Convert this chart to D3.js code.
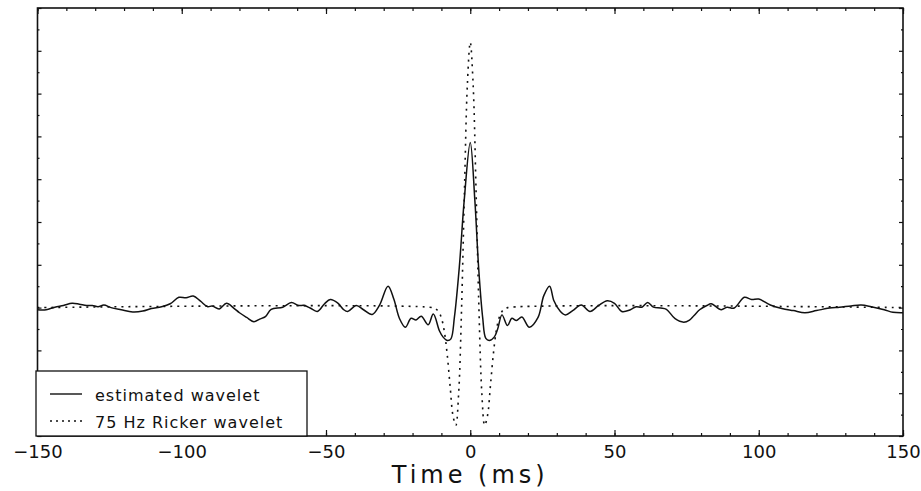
<!DOCTYPE html>
<html>
<head>
<meta charset="utf-8">
<script src="https://cdn.jsdelivr.net/npm/d3@7"></script>
<style>
  body { margin: 0; background: #fff; }
  text { font-family: "DejaVu Sans", sans-serif; fill: #111; }
</style>
</head>
<body>
<svg id="chart" width="921" height="491"></svg>
<script>
// estimated wavelet (time in ms, amplitude in tick units)
var estTime = [-150, -147, -144, -141, -138, -135.5, -133, -131, -129, -127, -124.5, -121, -117, -113.5, -110.5,
  -107, -104, -101, -98.5, -96, -93.5, -91, -89.5, -87, -84.5, -82, -80, -77.5, -75, -73, -71, -69, -65, -62,
  -59.5, -57.5, -55.5, -53, -50.5, -48.5, -46, -44, -42.5, -39.5, -37, -34, -31.5, -28.5, -26.5, -24.5, -22.5,
  -20.5, -18.8, -17, -14.6, -12.8, -10.7, -9.4, -7.9, -6.7, -5.5, -3.8, -2.1, 0,
  1.6, 2.9, 4.3, 5.4, 6.6, 8.3, 9.5, 11, 12.9, 14.4, 16, 17.9, 20.5, 23.5, 25.5, 27.5, 29, 31, 33, 35.5, 38.5,
  41.5, 44.5, 47.5, 50, 52.5, 55.5, 57.5, 59.5, 61.5, 63.5, 66, 68, 71, 74, 76, 77.5, 79.5, 82, 83.5, 87, 89,
  91.5, 95, 97.5, 100, 104, 108, 112, 116, 120, 124.5, 128, 132, 135.5, 139, 143.5, 146.5, 150];
var estValue = [-0.05, -0.05, 0.01, 0.05, 0.10, 0.08, 0.05, 0.05, 0.02, 0.06, 0.0, -0.05, -0.10, -0.08, -0.02,
  0.02, 0.09, 0.24, 0.23, 0.27, 0.15, 0.02, 0.04, -0.03, 0.10, -0.01, -0.12, -0.23, -0.33, -0.27, -0.21, -0.04, 0.01, 0.12,
  0.05, 0.05, -0.01, -0.09, 0.09, 0.19, 0.11, -0.04, -0.09, 0.05, -0.05, -0.16, 0.05, 0.50, 0.20, -0.26, -0.46,
  -0.25, -0.29, -0.20, -0.40, -0.15, -0.54, -0.69, -0.77, -0.73, -0.23, 0.94, 2.5, 3.86,
  2.5, 0.94, -0.23, -0.72, -0.77, -0.69, -0.50, -0.17, -0.42, -0.25, -0.30, -0.22, -0.46, -0.23, 0.28, 0.50, 0.16, -0.07, -0.17, -0.07, 0.06,
  -0.09, 0.05, 0.16, 0.10, -0.09, -0.05, 0.02, 0.01, 0.12, 0.01, -0.01, -0.04, -0.26, -0.34, -0.29, -0.19, -0.05, 0.05, 0.09, -0.05, 0.01,
  -0.01, 0.24, 0.19, 0.20, 0.06, -0.02, -0.07, -0.12, -0.07, -0.01, 0.01, 0.04, 0.06, 0.02, -0.05, -0.11, -0.12];

// 75 Hz Ricker wavelet
var rickerTime = [-150, -13, -12, -11, -10, -9, -8, -7, -6, -5, -4, -3, -2, -1, 0,
  1, 2, 3, 4, 5, 6, 7, 8, 9, 10, 11, 12, 13, 150];
var rickerValue = [0, 0, -0.03, -0.09, -0.24, -0.55, -1.09, -1.82, -2.52, -2.75, -1.98, 0.0, 2.76, 5.21, 6.2,
  5.21, 2.76, 0.0, -1.98, -2.75, -2.52, -1.82, -1.09, -0.55, -0.24, -0.09, -0.03, 0, 0];

var xMajorTicks = [-150, -100, -50, 0, 50, 100, 150];
var xMinorTicks = d3.range(-150, 151, 10);
var yMajorTicks = d3.range(-3, 7.01, 1);
var yMinorTicks = d3.range(-2.5, 7, 1);

var legendLabels = ["estimated wavelet", "75 Hz Ricker wavelet"];
var xTitle = "Time (ms)";

var svg = d3.select("#chart");
var plotLeft = 37.5, plotRight = 903, plotTop = 8, plotBottom = 436;

var x = d3.scaleLinear().domain([-150, 150]).range([plotLeft, plotRight]);
var y = d3.scaleLinear().domain([-3, 7]).range([plotBottom, plotTop]);

var estData = estTime.map(function(t, i) { return {t: t, v: estValue[i]}; });
var rickerData = rickerTime.map(function(t, i) { return {t: t, v: rickerValue[i]}; });

var line = d3.line()
  .x(function(d) { return x(d.t); })
  .y(function(d) { return y(d.v); })
  .curve(d3.curveCatmullRom.alpha(0.5));

svg.append("path")
  .datum(rickerData)
  .attr("d", line)
  .attr("fill", "none")
  .attr("stroke", "#111")
  .attr("stroke-width", 1.6)
  .attr("stroke-dasharray", "2,5");

svg.append("path")
  .datum(estData)
  .attr("d", line)
  .attr("fill", "none")
  .attr("stroke", "#111")
  .attr("stroke-width", 1.5)
  .attr("stroke-linejoin", "round");

// inward ticks on all four sides
function addAxis(axis, tx, ty) {
  var g = svg.append("g")
    .attr("transform", "translate(" + tx + "," + ty + ")")
    .call(axis);
  g.select(".domain").remove();
  g.selectAll("line").attr("stroke", "#111").attr("stroke-width", 1.2);
  return g;
}

addAxis(d3.axisBottom(x).tickValues(xMinorTicks).tickSize(-3).tickFormat(""), 0, plotBottom);
addAxis(d3.axisTop(x).tickValues(xMinorTicks).tickSize(-3).tickFormat(""), 0, plotTop);
addAxis(d3.axisTop(x).tickValues(xMajorTicks).tickSize(-6).tickFormat(""), 0, plotTop);
var xg = addAxis(d3.axisBottom(x).tickValues(xMajorTicks).tickSize(-6).tickPadding(9), 0, plotBottom);
xg.selectAll("text")
  .style("font-family", "DejaVu Sans, sans-serif")
  .style("font-size", "18px")
  .attr("fill", "#111");

addAxis(d3.axisLeft(y).tickValues(yMajorTicks).tickSize(-4).tickFormat(""), plotLeft, 0);
addAxis(d3.axisLeft(y).tickValues(yMinorTicks).tickSize(-2).tickFormat(""), plotLeft, 0);
addAxis(d3.axisRight(y).tickValues(yMajorTicks).tickSize(-4).tickFormat(""), plotRight, 0);
addAxis(d3.axisRight(y).tickValues(yMinorTicks).tickSize(-2).tickFormat(""), plotRight, 0);

// frame
svg.append("rect")
  .attr("x", plotLeft).attr("y", plotTop)
  .attr("width", plotRight - plotLeft).attr("height", plotBottom - plotTop)
  .attr("fill", "none")
  .attr("stroke", "#111")
  .attr("stroke-width", 1.6);

svg.append("text")
  .attr("x", x(0))
  .attr("y", 483)
  .attr("text-anchor", "middle")
  .style("font-size", "24px")
  .style("letter-spacing", "4px")
  .text(xTitle);

// legend
var legend = svg.append("g");
legend.append("rect")
  .attr("x", 36).attr("y", 371)
  .attr("width", 271).attr("height", plotBottom - 371)
  .attr("fill", "#fff")
  .attr("stroke", "#111")
  .attr("stroke-width", 1.3);

var dashes = [null, "2,4"];
legendLabels.forEach(function(label, i) {
  var ly = 394 + i * 27;
  legend.append("line")
    .attr("x1", 50).attr("x2", 82)
    .attr("y1", ly).attr("y2", ly)
    .attr("stroke", "#111")
    .attr("stroke-width", 1.4)
    .attr("stroke-dasharray", dashes[i]);
  legend.append("text")
    .attr("x", 95)
    .attr("y", ly + 7)
    .style("font-size", "16px")
    .style("letter-spacing", "1px")
    .text(label);
});
</script>
</body>
</html>
